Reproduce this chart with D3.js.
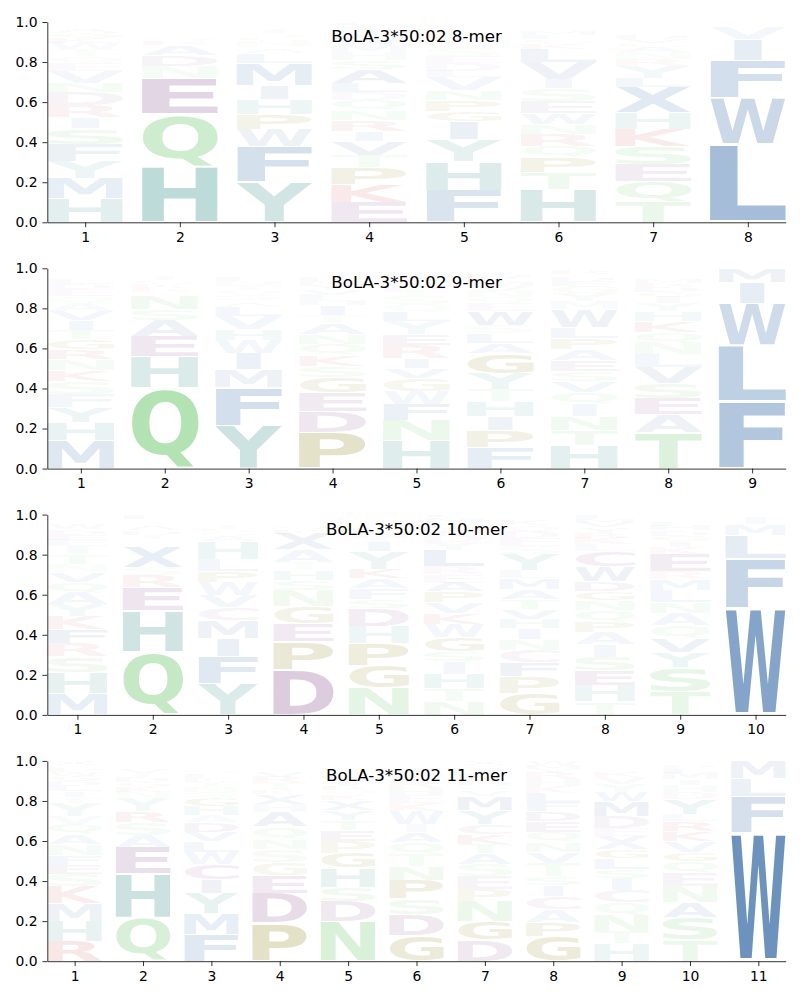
<!DOCTYPE html>
<html><head><meta charset="utf-8">
<script src="https://cdn.jsdelivr.net/npm/d3@7"></script>
<style>body{margin:0;background:#fff}svg{display:block}</style>
</head><body>
<svg id="chart" width="800" height="1000"></svg>
<script>
const titles = ["BoLA-3*50:02 8-mer","BoLA-3*50:02 9-mer","BoLA-3*50:02 10-mer","BoLA-3*50:02 11-mer"];
const yTicks = [0,0.2,0.4,0.6,0.8,1.0];

const logo8mer = [
 [["H",.12],["M",.10],["Y",.085],["F",.085],["S",.08],["I",.055],["R",.06],["D",.065],["N",.045],["V",.06],["E",.04],["Q",.035],["T",.035],["W",.03],["K",.025],["G",.025],["A",.02],["P",.015],["L",.01],["C",.01]],
 [["H",.28],["Q",.26],["E",.18],["N",.06],["D",.055],["A",.05],["R",.02],["S",.02],["K",.015],["G",.015],["T",.015],["Y",.01],["P",.01],["V",.01]],
 [["Y",.2],["F",.18],["W",.085],["P",.075],["H",.075],["I",.07],["M",.11],["L",.05],["A",.02],["K",.015],["N",.025],["G",.02],["S",.02],["T",.02],["Q",.015],["E",.01],["R",.01]],
 [["E",.1],["K",.09],["P",.085],["T",.06],["V",.07],["I",.05],["R",.055],["N",.05],["Q",.05],["D",.04],["L",.045],["A",.07],["S",.045],["H",.04],["M",.035],["W",.03],["F",.025],["Y",.02],["G",.02],["C",.02]],
 [["F",.16],["H",.145],["Y",.11],["I",.09],["G",.05],["P",.055],["N",.05],["V",.065],["L",.03],["D",.04],["E",.035],["S",.04],["T",.015],["A",.015],["Q",.02],["K",.02],["R",.015],["W",.015],["M",.01],["C",.01]],
 [["H",.165],["T",.085],["P",.075],["Q",.055],["R",.06],["N",.05],["W",.055],["E",.06],["S",.065],["I",.045],["V",.085],["L",.065],["K",.03],["G",.02],["F",.02],["M",.02],["A",.015],["Y",.015],["D",.015]],
 [["T",.105],["Q",.1],["E",.085],["S",.09],["K",.085],["H",.08],["X",.13],["L",.045],["Y",.06],["R",.035],["N",.035],["A",.025],["G",.02],["V",.02],["D",.02],["I",.015],["M",.015],["P",.015],["F",.01],["W",.01]],
 [["L",.39],["W",.23],["F",.19],["I",.105],["V",.06],["M",.015],["Y",.01]]
];
const logo9mer = [
 [["M",.14],["H",.09],["Y",.075],["F",.065],["S",.065],["K",.055],["N",.055],["R",.05],["G",.05],["T",.045],["I",.05],["V",.045],["A",.04],["Q",.035],["E",.035],["D",.025],["L",.025],["P",.015],["W",.015],["C",.01],["X",.015]],
 [["Q",.405],["H",.155],["E",.1],["A",.08],["S",.055],["N",.07],["D",.015],["R",.02],["K",.02],["G",.02],["T",.02],["Y",.015],["V",.01],["P",.01],["L",.005]],
 [["Y",.215],["F",.19],["M",.09],["I",.08],["W",.065],["H",.055],["V",.065],["L",.045],["A",.02],["G",.015],["S",.025],["Q",.025],["T",.025],["N",.02],["E",.02],["K",.015],["C",.015],["P",.015]],
 [["P",.18],["D",.105],["E",.095],["G",.075],["S",.055],["K",.055],["Q",.055],["N",.05],["A",.055],["T",.04],["I",.05],["H",.02],["L",.03],["V",.025],["Y",.025],["M",.02],["R",.02],["F",.015],["W",.015],["C",.015]],
 [["H",.14],["N",.1],["F",.08],["W",.065],["G",.065],["V",.05],["I",.05],["R",.065],["E",.055],["Y",.065],["L",.045],["Q",.04],["S",.04],["T",.025],["D",.025],["K",.02],["A",.02],["M",.02],["P",.015],["C",.015]],
 [["F",.105],["P",.085],["I",.07],["H",.075],["T",.06],["Y",.08],["G",.1],["A",.05],["L",.05],["S",.04],["W",.07],["E",.04],["Q",.03],["N",.03],["V",.025],["M",.02],["K",.02],["D",.02],["R",.015],["C",.015]],
 [["H",.115],["T",.075],["N",.07],["I",.06],["Q",.06],["V",.055],["S",.05],["E",.055],["A",.055],["P",.055],["L",.055],["W",.09],["M",.04],["Y",.04],["G",.035],["F",.025],["D",.02],["K",.015],["R",.02],["C",.01]],
 [["T",.18],["A",.09],["E",.08],["S",.075],["V",.08],["L",.065],["N",.06],["Q",.05],["K",.055],["H",.05],["Y",.04],["I",.03],["G",.025],["D",.025],["R",.02],["M",.02],["F",.015],["P",.015],["W",.01],["C",.01],["X",.005]],
 [["F",.335],["L",.28],["W",.21],["I",.105],["M",.07]]
];
const logo10mer = [
 [["M",.105],["H",.105],["S",.08],["R",.065],["F",.07],["K",.065],["Y",.06],["A",.06],["Q",.05],["V",.05],["N",.04],["T",.05],["I",.04],["L",.035],["E",.025],["D",.025],["W",.03],["G",.015],["P",.015],["C",.015]],
 [["Q",.315],["H",.205],["E",.115],["R",.06],["S",.04],["X",.1],["K",.015],["N",.015],["G",.015],["T",.02],["D",.02],["A",.02],["Y",.015],["V",.015],["P",.01],["L",.02]],
 [["Y",.155],["F",.135],["I",.09],["M",.09],["C",.065],["V",.06],["W",.065],["P",.055],["L",.06],["H",.09],["A",.025],["S",.02],["G",.02],["T",.02],["N",.015],["E",.01],["K",.01],["Q",.015]],
 [["D",.225],["P",.14],["E",.09],["G",.085],["N",.08],["S",.05],["H",.05],["T",.04],["A",.065],["X",.08],["K",.02],["Q",.02],["R",.015],["V",.015],["I",.005],["L",.01],["Y",.01]],
 [["N",.135],["G",.11],["P",.11],["H",.085],["D",.09],["S",.045],["F",.055],["A",.05],["K",.045],["Y",.09],["I",.05],["T",.025],["E",.025],["Q",.02],["R",.015],["V",.015],["L",.015],["M",.01],["W",.01]],
 [["N",.07],["T",.06],["H",.075],["I",.06],["S",.05],["G",.07],["W",.065],["K",.055],["V",.055],["P",.055],["A",.045],["E",.04],["R",.04],["L",.08],["Y",.04],["D",.035],["F",.03],["Q",.03],["M",.025],["C",.02]],
 [["G",.105],["P",.085],["F",.07],["C",.065],["N",.055],["I",.055],["H",.045],["V",.05],["T",.045],["A",.05],["M",.055],["L",.04],["Y",.08],["S",.04],["E",.04],["D",.035],["Q",.03],["K",.025],["R",.015],["W",.015]],
 [["T",.065],["H",.08],["E",.075],["S",.07],["I",.06],["A",.06],["P",.055],["Q",.055],["N",.05],["G",.045],["D",.05],["W",.075],["C",.075],["L",.035],["K",.035],["R",.025],["Y",.025],["V",.025],["M",.02],["F",.02]],
 [["T",.115],["S",.12],["Y",.075],["V",.07],["Q",.065],["A",.06],["N",.055],["L",.06],["M",.055],["R",.04],["E",.085],["K",.035],["I",.03],["G",.03],["D",.025],["H",.025],["F",.02],["P",.015],["W",.01],["C",.01]],
 [["W",.535],["F",.245],["L",.115],["M",.055],["I",.035],["Y",.015]]
];
const logo11mer = [
 [["R",.1],["H",.1],["M",.09],["K",.085],["S",.06],["E",.045],["F",.05],["N",.055],["A",.05],["Q",.05],["V",.04],["Y",.065],["T",.03],["I",.03],["L",.025],["D",.025],["G",.025],["W",.02],["P",.02],["C",.015],["X",.02]],
 [["Q",.215],["H",.22],["E",.135],["A",.06],["S",.065],["R",.055],["Y",.065],["N",.03],["K",.025],["G",.025],["D",.025],["T",.02],["V",.02],["P",.015],["L",.015],["M",.01]],
 [["F",.135],["M",.105],["Y",.1],["I",.07],["C",.075],["W",.06],["L",.055],["V",.045],["D",.05],["A",.035],["H",.045],["G",.045],["S",.025],["N",.025],["T",.025],["K",.02],["E",.02],["Q",.02],["P",.015],["R",.015],["X",.015]],
 [["P",.19],["D",.15],["E",.09],["G",.065],["S",.065],["N",.05],["Q",.06],["A",.075],["H",.04],["X",.05],["K",.02],["T",.035],["R",.03],["V",.03],["I",.015],["L",.015],["Y",.01],["M",.01]],
 [["N",.2],["D",.1],["S",.07],["H",.095],["G",.075],["P",.06],["E",.055],["T",.05],["Y",.05],["X",.05],["K",.025],["Q",.025],["R",.02],["I",.02],["V",.02],["L",.02],["M",.015],["F",.015],["W",.01],["C",.01],["A",.01]],
 [["G",.13],["D",.105],["S",.075],["P",.095],["N",.07],["T",.06],["Q",.06],["A",.05],["I",.04],["W",.065],["K",.04],["E",.04],["H",.035],["R",.03],["V",.03],["L",.03],["Y",.015],["M",.015],["F",.01],["C",.005]],
 [["D",.105],["G",.095],["N",.1],["P",.06],["E",.065],["S",.06],["A",.055],["T",.045],["K",.05],["C",.05],["Y",.07],["M",.07],["V",.025],["Q",.025],["H",.02],["R",.02],["L",.02],["I",.02],["F",.015],["W",.01],["X",.02]],
 [["G",.125],["P",.07],["A",.065],["C",.065],["I",.055],["S",.045],["T",.065],["V",.055],["N",.05],["Q",.05],["E",.055],["D",.05],["F",.045],["L",.045],["K",.035],["H",.035],["R",.03],["Y",.02],["M",.02],["W",.02]],
 [["H",.09],["T",.06],["N",.08],["Q",.065],["C",.06],["I",.06],["S",.045],["L",.055],["G",.045],["X",.065],["E",.04],["D",.06],["M",.075],["W",.045],["Y",.04],["V",.035],["K",.025],["A",.015],["P",.015],["R",.015],["F",.01]],
 [["T",.105],["S",.115],["A",.075],["N",.08],["E",.065],["Q",.06],["G",.045],["V",.055],["K",.05],["R",.05],["L",.035],["Y",.075],["D",.035],["H",.035],["I",.03],["M",.03],["F",.02],["P",.02],["W",.01],["C",.01]],
 [["W",.64],["F",.185],["L",.085],["M",.09]]
];

const blue="#4e7db1", teal="#4b9b95", green="#6ec86e", purple="#8a4f8e", olive="#8d8417", red="#c84646";
const letterColor = {A:blue,V:blue,L:blue,I:blue,M:blue,F:blue,W:blue,X:blue,
  H:teal,Y:teal,Q:green,N:green,S:green,T:green,D:purple,E:purple,C:"#a0509a",
  P:olive,G:olive,K:red,R:red};

const panels = [logo8mer, logo9mer, logo10mer, logo11mer];
const axLeft = 47.3, axRight = 785.7, axH = 200.3;
const axTops = [22, 268.3, 514.6, 760.9];
const FS = 100, FONT = "DejaVu Sans";

const svg = d3.select("#chart");
svg.append("rect").attr("width",800).attr("height",1000).attr("fill","#fff");

const ctx = document.createElement("canvas").getContext("2d");
ctx.font = `bold ${FS}px "${FONT}"`;
const inkCache = {};
function ink(ch){
  if(!inkCache[ch]){
    const m = ctx.measureText(ch);
    inkCache[ch] = {l:m.actualBoundingBoxLeft, r:m.actualBoundingBoxRight, a:m.actualBoundingBoxAscent, d:m.actualBoundingBoxDescent};
  }
  return inkCache[ch];
}
const eInk = ink("E"), eWidth = eInk.l + eInk.r;

panels.forEach((data, pi) => {
  const n = data.length;
  const top = axTops[pi], bottom = top + axH;
  const x = d3.scaleLinear().domain([0.6, n + 0.4]).range([axLeft, axRight]);
  const y = d3.scaleLinear().domain([0, 1]).range([bottom, top]);
  const g = svg.append("g");

  data.forEach((col, i) => {
    const pos = i + 1;
    let cum = 0;
    col.forEach(([ch, h]) => {
      const yb = y(cum), yt = y(cum + h);
      cum += h;
      const pad = (yb - yt) * 0.025;
      const t = yt + pad, b = yb - pad;
      const m = ink(ch);
      const gw = m.l + m.r, gh = m.a + m.d;
      const boxW = x(pos + 0.4) - x(pos - 0.4);
      const sx = Math.min(boxW / gw, boxW / eWidth);
      const x0 = x(pos) - gw * sx / 2;
      const sy = (b - t) / gh;
      g.append("text").text(ch)
        .attr("font-family", FONT).attr("font-weight", "bold").attr("font-size", FS)
        .attr("transform", `translate(${x0},${t}) scale(${sx},${sy}) translate(${m.l},${m.a})`)
        .attr("fill", letterColor[ch])
        .attr("fill-opacity", Math.min(1, 1.3 * h));
    });
  });

  const yAxis = d3.axisLeft(y).tickValues(yTicks).tickFormat(d3.format(".1f"))
    .tickSizeInner(4.86).tickSizeOuter(0).tickPadding(4.86);
  const xAxis = d3.axisBottom(x).tickValues(d3.range(1, n + 1)).tickFormat(d3.format("d"))
    .tickSizeInner(4.86).tickSizeOuter(0).tickPadding(4.86);
  const ya = svg.append("g").attr("transform", `translate(${axLeft},0)`).call(yAxis);
  const xa = svg.append("g").attr("transform", `translate(0,${bottom})`).call(xAxis);
  [ya, xa].forEach(a => {
    a.selectAll("path,line").attr("stroke", "#000").attr("stroke-width", 0.8);
    a.selectAll("text").attr("font-family", FONT).attr("font-size", 13.9).attr("fill", "#000");
  });

  svg.append("text").attr("x", (axLeft + axRight) / 2).attr("y", top + 20)
    .attr("text-anchor", "middle").attr("font-family", FONT).attr("font-size", 16.67)
    .attr("fill", "#000").text(titles[pi]);
});
</script>
</body></html>
